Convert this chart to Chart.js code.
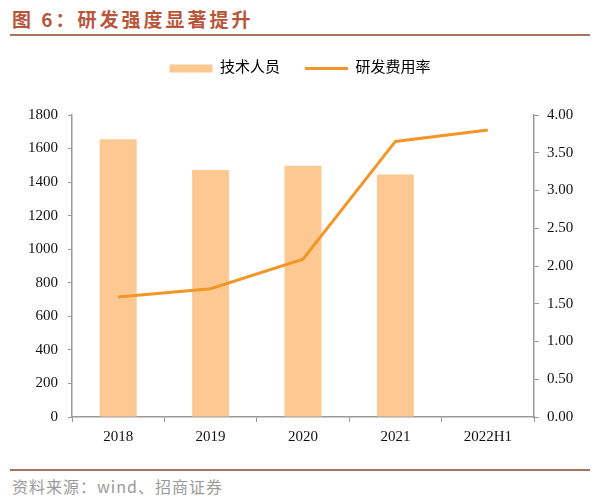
<!DOCTYPE html>
<html>
<head>
<meta charset="utf-8">
<script src="https://cdn.jsdelivr.net/npm/chart.js@4/dist/chart.umd.min.js"></script>
<style>
  body { margin: 0; background: #fff; }
  #wrap { position: relative; width: 600px; height: 502px; overflow: hidden; }
  #title { position: absolute; left: 12px; top: 5px; font: bold 19px "Noto Sans CJK SC", sans-serif; color: #b8563c; letter-spacing: 3px; }
  #topline { position: absolute; left: 10px; top: 34px; width: 580px; height: 2px; background: #a8735a; }
  #botline { position: absolute; left: 10px; top: 469px; width: 580px; height: 2px; background: #a8735a; }
  #source { position: absolute; left: 12px; top: 474px; font: 16px "Noto Sans CJK SC", sans-serif; color: #9a9a9a; letter-spacing: 1px; }
  #box { position: absolute; left: 0; top: 24px; width: 600px; height: 428px; }
</style>
</head>
<body>
<div id="wrap">
  <div id="title">图 6：研发强度显著提升</div>
  <div id="topline"></div>
  <div id="box"><canvas id="chart"></canvas></div>
  <div id="botline"></div>
  <div id="source">资料来源：wind、招商证券</div>
</div>
<script>
// data
const years = ['2018', '2019', '2020', '2021', '2022H1']
const staff = [1655, 1472, 1497, 1445, null]        // 技术人员
const rdRate = [1.59, 1.70, 2.09, 3.65, 3.80]        // 研发费用率 (%)
const leftTicks = { min: 0, max: 1800, step: 200 }
const rightTicks = { min: 0, max: 4, step: 0.5 }

const barColor = '#fec893'
const lineColor = '#f39628'
const axisColor = '#9a9a9a'
const tickFont = { family: "'Liberation Serif', 'Times New Roman', serif", size: 15 }

// push the plot area down below the legend
const legendGap = {
  id: 'legendGap',
  beforeInit(chart) {
    const fit = chart.legend.fit
    chart.legend.fit = function () {
      fit.bind(chart.legend)()
      this.height += 29
    }
  }
}

new Chart(document.getElementById('chart').getContext('2d'), {
  type: 'bar',
  data: {
    labels: years,
    datasets: [{
      label: '技术人员',
      data: staff,
      backgroundColor: barColor,
      yAxisID: 'y',
      barPercentage: 0.4,
      categoryPercentage: 1,
      order: 1
    }, {
      type: 'line',
      label: '研发费用率',
      data: rdRate,
      borderColor: lineColor,
      backgroundColor: lineColor,
      borderWidth: 3,
      pointRadius: 0,
      tension: 0,
      yAxisID: 'y1',
      order: 0
    }]
  },
  options: {
    responsive: true,
    maintainAspectRatio: false,
    animation: false,
    layout: { padding: { top: 12, left: 0, right: 0, bottom: 0 } },
    plugins: {
      tooltip: { enabled: false },
      legend: {
        position: 'top',
        labels: {
          usePointStyle: true,
          pointStyleWidth: 43,
          boxHeight: 8,
          padding: 25,
          color: '#222',
          font: { family: "'Liberation Serif', 'Noto Sans CJK SC', serif", size: 15 },
          generateLabels: () => [
            { text: '技术人员', fillStyle: barColor, strokeStyle: barColor, lineWidth: 0, pointStyle: 'rect', datasetIndex: 0 },
            { text: '研发费用率', fillStyle: lineColor, strokeStyle: lineColor, lineWidth: 3, pointStyle: 'line', datasetIndex: 1 }
          ]
        }
      }
    },
    scales: {
      x: {
        grid: { display: true, drawOnChartArea: false, drawTicks: true, tickLength: 5, color: axisColor, offset: true },
        border: { color: axisColor, width: 1.5 },
        ticks: { color: '#111', font: tickFont, padding: 6 }
      },
      y: {
        position: 'left',
        min: leftTicks.min,
        max: leftTicks.max,
        grid: { drawOnChartArea: false, tickLength: 4, color: axisColor },
        border: { color: axisColor, width: 1.5 },
        ticks: { stepSize: leftTicks.step, color: '#111', font: tickFont, padding: 10, callback: v => String(v) },
        afterFit(scale) { scale.width = 72 }
      },
      y1: {
        position: 'right',
        min: rightTicks.min,
        max: rightTicks.max,
        grid: { drawOnChartArea: false, tickLength: 5, color: axisColor },
        border: { color: axisColor, width: 1.5 },
        ticks: { stepSize: rightTicks.step, color: '#111', font: tickFont, padding: 8, callback: v => v.toFixed(2) },
        afterFit(scale) { scale.width = 66 }
      }
    }
  },
  plugins: [legendGap]
})
</script>
</body>
</html>
